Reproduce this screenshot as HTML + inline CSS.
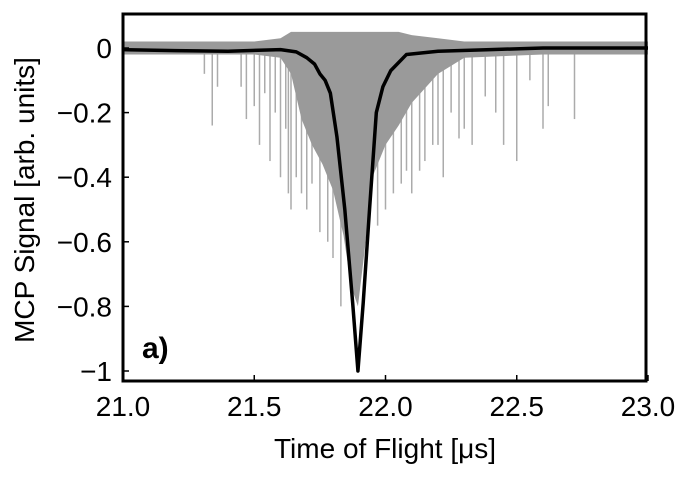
<!DOCTYPE html>
<html><head><meta charset="utf-8"><style>
html,body{margin:0;padding:0;background:#fff;}
svg{display:block;font-family:"Liberation Sans",sans-serif;}
</style></head><body>
<svg id="chart" width="681" height="478"></svg>
<script>
const xTicks=[21.0,21.5,22.0,22.5,23.0];
const xTickLabels=["21.0","21.5","22.0","22.5","23.0"];
const yTicks=[0,-0.2,-0.4,-0.6,-0.8,-1];
const yTickLabels=["0","\u22120.2","\u22120.4","\u22120.6","\u22120.8","\u22121"];
const avgT=[21.0,21.2,21.4,21.6,21.66,21.7,21.73,21.75,21.77,21.79,21.815,21.845,21.875,21.895,21.915,21.94,21.965,21.99,22.02,22.08,22.2,22.4,22.6,22.8,23.0];
const avgV=[-0.005,-0.008,-0.01,-0.005,-0.012,-0.03,-0.05,-0.08,-0.1,-0.14,-0.275,-0.5,-0.79,-1.0,-0.79,-0.49,-0.2,-0.12,-0.07,-0.02,-0.01,-0.005,0.0,0.0,0.0];
const envT=[21.0,21.3,21.5,21.6,21.64,21.68,21.72,21.76,21.8,21.84,21.87,21.895,21.92,21.95,22.0,22.05,22.1,22.2,22.3,22.6,23.0];
const envHi=[0.02,0.02,0.02,0.03,0.05,0.05,0.05,0.05,0.05,0.05,0.05,0.05,0.05,0.05,0.05,0.05,0.04,0.03,0.02,0.02,0.02];
const envLo=[-0.02,-0.02,-0.02,-0.03,-0.08,-0.22,-0.3,-0.36,-0.44,-0.58,-0.74,-0.8,-0.63,-0.4,-0.3,-0.24,-0.17,-0.08,-0.03,-0.02,-0.02];
const spikeT=[21.31,21.34,21.36,21.45,21.47,21.5,21.52,21.54,21.56,21.58,21.6,21.62,21.63,21.64,21.66,21.68,21.7,21.72,21.75,21.78,21.8,21.83,21.97,22.0,22.03,22.06,22.08,22.1,22.13,22.15,22.18,22.2,22.22,22.25,22.28,22.3,22.33,22.38,22.42,22.45,22.5,22.55,22.6,22.62,22.72];
const spikeV=[-0.08,-0.24,-0.12,-0.12,-0.22,-0.18,-0.3,-0.14,-0.35,-0.2,-0.4,-0.25,-0.45,-0.5,-0.4,-0.45,-0.5,-0.42,-0.57,-0.6,-0.65,-0.8,-0.55,-0.5,-0.45,-0.42,-0.38,-0.45,-0.38,-0.35,-0.3,-0.3,-0.4,-0.2,-0.28,-0.25,-0.3,-0.15,-0.2,-0.3,-0.35,-0.1,-0.25,-0.18,-0.22];
const NS='http://www.w3.org/2000/svg';
const svg=document.getElementById('chart');
const L=123,R=648,T=14,B=381;
const X=t=>L+(t-21)/2*(R-L);
const Y=v=>48+(-v)*(371-48);
function el(n,a,p){const e=document.createElementNS(NS,n);for(const k in a)e.setAttribute(k,a[k]);(p||svg).appendChild(e);return e;}
spikeT.forEach((t,i)=>{
 const s=el('line',{x1:X(t),x2:X(t),y1:Y(0),y2:Y(spikeV[i]),stroke:'#ababab','stroke-width':1.5});
 
 
});
let d='M'+envT.map((t,i)=>X(t)+','+Y(envHi[i])).join('L');
for(let i=envT.length-1;i>=0;i--)d+='L'+X(envT[i])+','+Y(envLo[i]);
const env=el('path',{d:d+'Z',fill:'#9a9a9a',stroke:'none'});


const avg=el('polyline',{points:avgT.map((t,i)=>X(t)+','+Y(avgV[i])).join(' '),fill:'none',stroke:'#000','stroke-width':3.5,'stroke-linejoin':'round'});


const fr=el('rect',{x:L,y:T,width:R-L-2,height:B-T,fill:'none',stroke:'#000','stroke-width':3});


xTicks.forEach((t,i)=>{
 el('line',{x1:X(t),x2:X(t),y1:B,y2:B-6,stroke:'#000','stroke-width':1.5});
 const tx=el('text',{x:X(t),y:416,'font-size':28,'text-anchor':'middle'});
 tx.textContent=xTickLabels[i];
 
 
});
yTicks.forEach((v,i)=>{
 el('line',{x1:L,x2:L+6,y1:Y(v),y2:Y(v),stroke:'#000','stroke-width':1.5});
 const tx=el('text',{x:112,y:Y(v)+10,'font-size':28,'text-anchor':'end'});
 tx.textContent=yTickLabels[i];
 
 
});
const xt=el('text',{x:385,y:458,'font-size':28,'text-anchor':'middle'});
xt.textContent='Time of Flight [\u03bcs]';


const yt=el('text',{x:0,y:0,'font-size':28,'text-anchor':'middle',transform:'translate(34,200) rotate(-90)'});
yt.textContent='MCP Signal [arb. units]';


const pl=el('text',{x:142,y:358,'font-size':30,'font-weight':'bold'});
pl.textContent='a)';


</script>
</body></html>
